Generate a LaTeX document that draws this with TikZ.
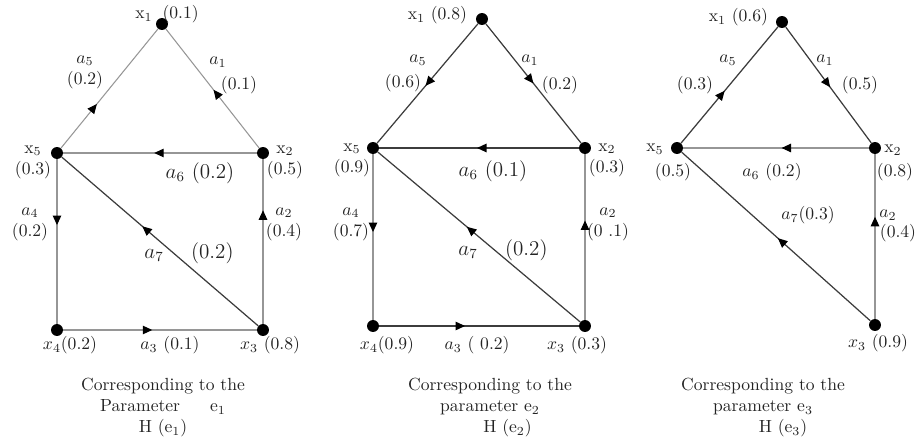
\documentclass[tikz,border=0pt]{standalone}
\usepackage{amsmath}
\usetikzlibrary{arrows.meta,positioning,decorations.markings}
\definecolor{lnlightc}{RGB}{150,150,150}
\definecolor{lndarkc}{RGB}{60,60,60}
\definecolor{ink}{RGB}{35,35,35}

\begin{document}
\begin{tikzpicture}[
  vtx/.style={circle,fill=black,inner sep=0pt,minimum size=6.8pt},
  lbl/.style={font=\normalsize,text=ink,inner sep=1pt},
  stack/.style={lbl,align=center},
  biglbl/.style={lbl,font=\large},
  captxt/.style={font=\normalsize,text=ink,align=center,inner sep=0pt,anchor=north},
  lnlight/.style={draw=lnlightc,line width=0.6pt},
  lndark/.style={draw=lndarkc,line width=0.7pt},
  midarr/.style={postaction={decorate},decoration={markings,mark=at position #1 with {\arrow{Triangle[length=1.9mm,width=1.7mm,color=black]}}}}]
  \useasboundingbox (0,0) rectangle (18.4,8.9);

  % H(e1)
  \node[vtx] (g1x1) at (3.24,8.42) {};
  \node[vtx] (g1x5) at (1.14,5.84) {};
  \node[vtx] (g1x2) at (5.26,5.84) {};
  \node[vtx] (g1x4) at (1.14,2.30) {};
  \node[vtx] (g1x3) at (5.26,2.30) {};
  \draw[lnlight,midarr=0.37] (g1x5) -- (g1x1);
  \draw[lnlight,midarr=0.49] (g1x2) -- (g1x1);
  \draw[lnlight,midarr=0.53] (g1x2) -- (g1x5);
  \draw[lnlight,midarr=0.40] (g1x5) -- (g1x4);
  \draw[lnlight,midarr=0.69] (g1x3) -- (g1x2);
  \draw[lndark,midarr=0.59] (g1x3) -- (g1x5);
  \draw[lnlight,midarr=0.46] (g1x4) -- (g1x3);
  \node[lbl] (g1l1) at (3.34,8.62) {$\mathrm{x}_1$\hspace{0.2cm}(0.1)};
  \node[stack] (g1l5) at (1.70,7.46) {$a_5$\\(0.2)};
  \node[lbl] (g1la1) at (4.36,7.66) {$a_1$};
  \node[lbl] (g1lv1) at (4.78,7.20) {(0.1)};
  \node[stack] (g1lx5) at (0.66,5.66) {$\mathrm{x}_5$\\(0.3)};
  \node[stack] (g1lx2) at (5.70,5.66) {$\mathrm{x}_2$\\(0.5)};
  \node[biglbl] (g1l6) at (4.00,5.44) {$a_6$ (0.2)};
  \node[stack] (g1l4) at (0.60,4.42) {$a_4$\\(0.2)};
  \node[stack] (g1l2) at (5.68,4.42) {$a_2$\\(0.4)};
  \node[biglbl] (g1l7) at (3.78,3.84) {$a_7$\hspace{0.55cm}(0.2)};
  \node[lbl] (g1lx4) at (1.40,2.00) {$x_4$(0.2)};
  \node[lbl] (g1l3) at (3.40,2.00) {$a_3$ (0.1)};
  \node[lbl] (g1lx3) at (5.40,2.00) {$x_3$ (0.8)};
  \node[captxt] (g1cap) at (3.26,1.34) {Corresponding to the\\Parameter\hspace{0.6cm}$\mathrm{e}_1$\\H ($\mathrm{e}_1$)};

  % H(e2)
  \node[vtx] (g2x1) at (9.64,8.52) {};
  \node[vtx] (g2x5) at (7.46,5.94) {};
  \node[vtx] (g2x2) at (11.70,5.94) {};
  \node[vtx] (g2x4) at (7.46,2.38) {};
  \node[vtx] (g2x3) at (11.70,2.38) {};
  \draw[lndark,midarr=0.52] (g2x1) -- (g2x5);
  \draw[lndark,midarr=0.50] (g2x1) -- (g2x2);
  \draw[lndark,midarr=0.51] (g2x2) -- (g2x5);
  \draw[lnlight,midarr=0.47] (g2x5) -- (g2x4);
  \draw[lnlight,midarr=0.60] (g2x3) -- (g2x2);
  \draw[lndark,midarr=0.56] (g2x3) -- (g2x5);
  \draw[lndark,midarr=0.43] (g2x4) -- (g2x3);
  \node[lbl,anchor=east] (g2l1) at (9.38,8.60) {$\mathrm{x}_1$ (0.8)};
  \node[lbl] (g2la5) at (8.36,7.70) {$a_5$};
  \node[lbl] (g2lv5) at (8.06,7.24) {(0.6)};
  \node[lbl] (g2la1) at (10.60,7.70) {$a_1$};
  \node[lbl] (g2lv1) at (11.20,7.20) {(0.2)};
  \node[stack] (g2lx5) at (7.04,5.70) {$\mathrm{x}_5$\\(0.9)};
  \node[stack] (g2lx2) at (12.14,5.70) {$\mathrm{x}_2$\\(0.3)};
  \node[biglbl] (g2l6) at (9.86,5.48) {$a_6$ (0.1)};
  \node[stack] (g2l4) at (7.02,4.42) {$a_4$\\(0.7)};
  \node[stack] (g2l2) at (12.16,4.42) {$a_2$\\(0 .1)};
  \node[biglbl] (g2l7) at (10.06,3.90) {$a_7$\hspace{0.55cm}(0.2)};
  \node[lbl] (g2lx4) at (7.74,2.00) {$x_4$(0.9)};
  \node[lbl] (g2l3) at (9.54,2.00) {$a_3$ ( 0.2)};
  \node[lbl] (g2lx3) at (11.54,2.00) {$x_3$ (0.3)};
  \node[captxt] (g2cap) at (9.80,1.34) {Corresponding to the\\parameter $\mathrm{e}_2$\\\hspace*{0.7cm}H ($\mathrm{e}_2$)};

  % H(e3)
  \node[vtx] (g3x1) at (15.64,8.46) {};
  \node[vtx] (g3x5) at (13.54,5.94) {};
  \node[vtx] (g3x2) at (17.50,5.94) {};
  \node[vtx] (g3x3) at (17.50,2.40) {};
  \draw[lndark,midarr=0.45] (g3x5) -- (g3x1);
  \draw[lndark,midarr=0.52] (g3x1) -- (g3x2);
  \draw[lnlight,midarr=0.47] (g3x2) -- (g3x5);
  \draw[lnlight,midarr=0.62] (g3x3) -- (g3x2);
  \draw[lndark,midarr=0.49] (g3x3) -- (g3x5);
  \node[lbl,anchor=east] (g3l1) at (15.40,8.56) {$\mathrm{x}_1$ (0.6)};
  \node[lbl] (g3la5) at (14.56,7.70) {$a_5$};
  \node[lbl] (g3lv5) at (13.90,7.20) {(0.3)};
  \node[lbl] (g3la1) at (16.50,7.70) {$a_1$};
  \node[lbl] (g3lv1) at (17.20,7.20) {(0.5)};
  \node[lbl] (g3lx5) at (13.10,5.92) {$\mathrm{x}_5$};
  \node[lbl] (g3lv5b) at (13.46,5.46) {(0.5)};
  \node[lbl] (g3lx2) at (17.86,5.90) {$\mathrm{x}_2$};
  \node[lbl] (g3lv2) at (17.90,5.46) {(0.8)};
  \node[lbl] (g3l6) at (15.44,5.46) {$a_6$ (0.2)};
  \node[lbl] (g3l7) at (16.16,4.60) {$a_7$(0.3)};
  \node[lbl] (g3la2) at (17.76,4.60) {$a_2$};
  \node[lbl] (g3lv2b) at (17.96,4.24) {(0.4)};
  \node[lbl] (g3lx3) at (17.56,2.04) {$x_3$ (0.9)};
  \node[captxt] (g3cap) at (15.26,1.34) {Corresponding to the\\parameter $\mathrm{e}_3$\\\hspace*{0.8cm}H ($\mathrm{e}_3$)};
\end{tikzpicture}
\end{document}
